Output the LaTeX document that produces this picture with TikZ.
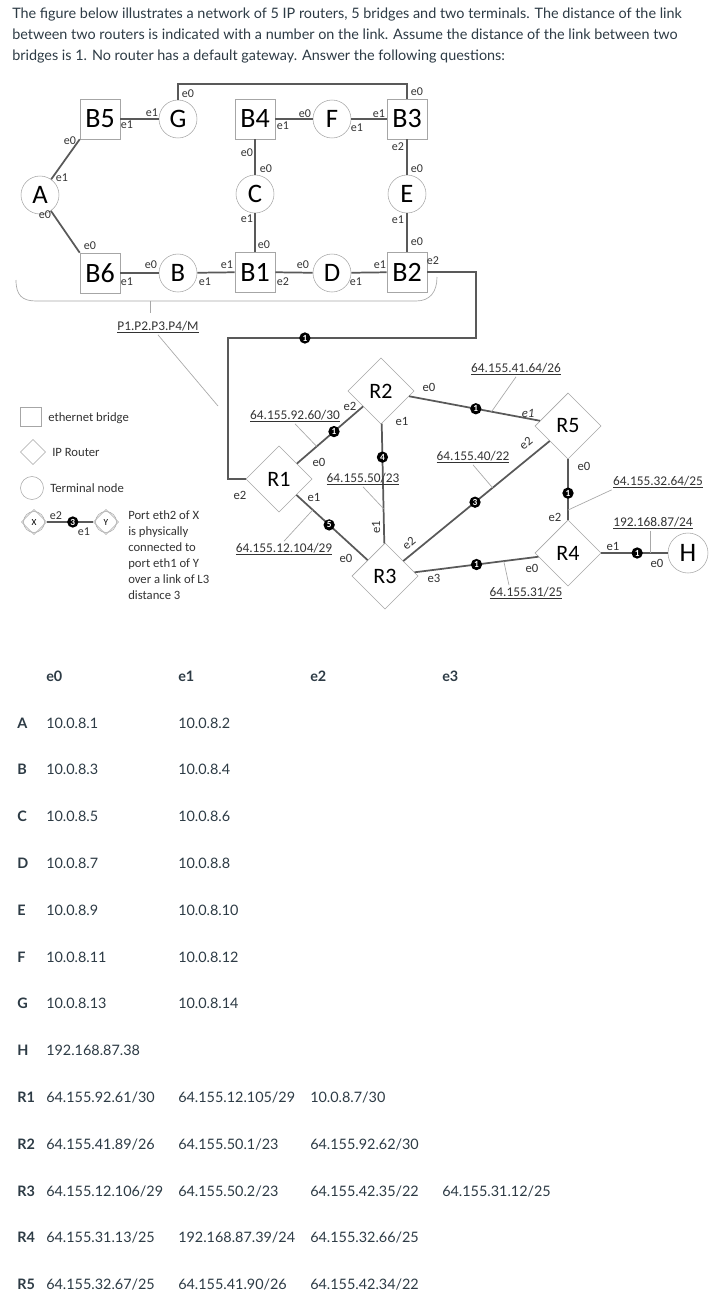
\documentclass[tikz,border=0pt]{standalone}
\usepackage{fontspec}
\setmainfont{Lato}
\newfontfamily\calfont{Carlito}
\usetikzlibrary{shapes.geometric,calc}
\definecolor{txt}{HTML}{2D3B45}
\definecolor{edge}{HTML}{A6A6A6}
\definecolor{wire}{HTML}{595959}
\definecolor{leadgray}{HTML}{A8A8A8}
\definecolor{lbl}{HTML}{333333}
\begin{document}
\begin{tikzpicture}[x=0.75pt,y=-0.75pt,
    br/.style={draw=edge,fill=white,minimum size=30pt,inner sep=0pt,
      font=\calfont\fontsize{21}{22}\selectfont},
    tm/.style={circle,draw=edge,fill=white,minimum size=28.5pt,inner sep=0pt,
      font=\calfont\fontsize{20}{22}\selectfont},
    rt/.style={diamond,draw=edge,fill=white,minimum size=49.5pt,inner sep=0pt,
      font=\calfont\fontsize{16.5}{18}\selectfont},
    ln/.style={wire,line width=1.3pt},
    ld/.style={leadgray,line width=0.5pt},
    bd/.style={circle,fill=black,text=white,inner sep=0pt,minimum size=8.5pt,
      font=\calfont\bfseries\fontsize{7}{7}\selectfont},
    pt/.style={inner sep=0pt,text=lbl,font=\calfont\fontsize{9}{10}\selectfont},
    pb/.style={inner sep=0pt,text=lbl,font=\calfont\fontsize{9.5}{10}\selectfont},
    nw/.style={inner sep=1pt,text=lbl,font=\calfont\fontsize{10}{11}\selectfont},
    lg/.style={inner sep=0pt,text=lbl,anchor=west,font=\calfont\fontsize{9.5}{12}\selectfont},
    lgbox/.style={draw=edge,minimum width=15.75pt,minimum height=14.25pt,inner sep=0pt},
    lgdia/.style={diamond,draw=edge,minimum size=18.75pt,inner sep=0pt,
      font=\calfont\fontsize{7}{8}\selectfont},
    lgcir/.style={circle,draw=edge,minimum size=17.25pt,inner sep=0pt},
    tx/.style={anchor=base west,inner sep=0pt,text=txt,font=\fontsize{10.8}{12}\selectfont},
    th/.style={tx,font=\bfseries\fontsize{10.8}{12}\selectfont},
  ]
  \useasboundingbox (0,0) rectangle (720,1297);
  \fill[white] (0,0) rectangle (720,1297);

  % question text
  \node[anchor=north west,inner sep=0pt,align=left,text=txt,
    font=\fontsize{10.8}{15.75}\selectfont] (title) at (12,8)
    {The figure below illustrates a network of 5 IP routers, 5 bridges and two terminals. The distance of the link\\
     between two routers is indicated with a number on the link. Assume the distance of the link between two\\
     bridges is 1. No router has a default gateway. Answer the following questions:};

  % bridges and terminals
  \node[tm] (A) at (40,195) {A};
  \node[br] (B5) at (100,119) {B5};
  \node[tm] (G) at (178,119) {G};
  \node[br] (B4) at (255,119) {B4};
  \node[tm] (F) at (332,119) {F};
  \node[br] (B3) at (407,119) {B3};
  \node[tm] (C) at (255,194) {C};
  \node[tm] (E) at (407,194) {E};
  \node[br] (B6) at (100,273) {B6};
  \node[tm] (B) at (178,273) {B};
  \node[br] (B1) at (255,272) {B1};
  \node[tm] (D) at (332,273) {D};
  \node[br] (B2) at (407,272) {B2};

  \draw[ln] (A) -- (B5.south west);
  \draw[ln] (A) -- (B6.north west);
  \draw[ln] (B5) -- (G);
  \draw[ln] (G.north) -- ++(0,-16) -| (B3.north);
  \draw[ln] (B4) -- (F); \draw[ln] (F) -- (B3);
  \draw[ln] (B4) -- (C); \draw[ln] (C) -- (B1);
  \draw[ln] (B3) -- (E); \draw[ln] (E) -- (B2);
  \draw[ln] (B6) -- (B); \draw[ln] (B) -- (B1);
  \draw[ln] (B1) -- (D); \draw[ln] (D) -- (B2);

  \foreach \x/\y/\t [count=\i] in {127/125/e1, 152/113/e1, 70/141/e0, 62/178/e1,
      45/215/e0, 90/246/e0, 188/94/e0, 283/126/e1, 305/114/e0, 357/128/e1,
      379/114/e1, 417/92/e0, 247/153/e0, 266/169/e0, 247/219/e1, 264/245/e0,
      398/147/e2, 417/169/e0, 398/220/e1, 417/242/e0, 127/282/e1, 151/265/e0,
      205/282/e1, 227/265/e1, 283/282/e2, 303/265/e0, 356/282/e1, 380/265/e1,
      433/261/e2}
    \node[pt] (pt\i) at (\x,\y) {\t};

  % bridged LAN
  \draw[ld] (16,280) .. controls (16,295) and (22,301) .. (36,301) -- (416,301)
    .. controls (430,301) and (437,292) .. (437,277);
  \coordinate (k3) at (150,301);
  \coordinate (k4) at (218,406);
  \node[nw] (pm) at (158,327) {\underline{P1.P2.P3.P4/M}};
  \draw[ld] (k3) -- ++(0,12);
  \draw[ld] (pm.south) -- (k4);

  % routers
  \node[rt] (R1) at (279,479) {R1};
  \node[rt] (R2) at (381,391) {R2};
  \node[rt] (R3) at (385,576) {R3};
  \node[rt] (R5) at (568,426) {R5};
  \node[rt] (R4) at (568,553) {R4};
  \node[tm,minimum size=30pt] (H) at (688,553) {H};

  \coordinate (k1) at (476,338);
  \coordinate (k2) at (228,338);
  \draw[ln] (B2.east) -| (k1) -- node[bd,pos=0.69]{1} (k2) |- (R1.west);

  \draw[ln] (R1) -- node[bd,pos=0.56]{1} coordinate[pos=0.30] (q1) (R2);
  \draw[ln] (R1) -- node[bd,pos=0.46]{5} coordinate[pos=0.23] (q2) (R3);
  \draw[ln] (R2) -- node[bd,pos=0.28]{4} coordinate[pos=0.71] (q3) (R3);
  \draw[ln] (R2) -- node[bd,pos=0.51]{1} coordinate[pos=0.63] (q4) (R5);
  \draw[ln] (R3) -- node[bd,pos=0.49]{3} coordinate[pos=0.61] (q5) (R5);
  \draw[ln] (R3) -- node[bd,pos=0.50]{1} coordinate[pos=0.72] (q6) (R4);
  \draw[ln] (R5) -- node[bd,pos=0.56]{1} coordinate[pos=0.84] (q7) (R4);
  \draw[ln] (R4) -- node[bd,pos=0.54]{1} coordinate[pos=0.74] (q8) (H);

  \node[nw] (n1) at (295,416) {\underline{64.155.92.60/30}};
  \node[nw] (n2) at (284,549) {\underline{64.155.12.104/29}};
  \node[nw] (n3) at (363,479) {\underline{64.155.50/23}};
  \node[nw] (n4) at (516,369) {\underline{64.155.41.64/26}};
  \node[nw] (n5) at (473,457) {\underline{64.155.40/22}};
  \node[nw] (n6) at (526,593) {\underline{64.155.31/25}};
  \node[nw] (n7) at (658,482) {\underline{64.155.32.64/25}};
  \node[nw] (n8) at (653,523) {\underline{192.168.87/24}};
  \draw[ld] (n1.south) -- (q1);
  \draw[ld] (n2.north) -- (q2);
  \draw[ld] (n3.south) -- (q3);
  \draw[ld] (n4.south) -- (q4);
  \draw[ld] (n5.south) -- (q5);
  \draw[ld] ($(n6.north)+(-17,0)$) -- (q6);
  \draw[ld] (n7.south west) -- (q7);
  \draw[ld] (n8.south -| q8) -- (q8);

  \foreach \x/\y/\t [count=\i] in {350/406/e2, 319/462/e0, 402/421/e1, 240/495/e2,
      314/497/e1, 346/558/e0, 434/578/e3, 429/387/e0, 584/466/e0, 555/517/e2,
      532/568/e0, 613/546/e1, 657/563/e0}
    \node[pb] (pb\i) at (\x,\y) {\t};
  \node[pb,rotate=90] (pr1) at (376,527) {e1};
  \node[pb,rotate=40] (pr2) at (409,543) {e2};
  \node[pb,rotate=40] (pr3) at (526,443) {e2};
  \node[pb,font=\calfont\itshape\fontsize{9.5}{10}\selectfont] (pr4) at (528,413) {e1};

  % legend
  \node[lgbox] (lgB) at (31,417) {};
  \node[lg] (lgBt) at (48,418) {ethernet bridge};
  \node[lgdia] (lgR) at (33,452) {};
  \node[lg] (lgRt) at (52,452) {IP Router};
  \node[lgcir] (lgT) at (32,488) {};
  \node[lg] (lgTt) at (50,488) {Terminal node};
  \node[lgdia] (X) at (34,522) {X};
  \node[lgcir,minimum size=15.75pt] (Xc) at (34,522) {};
  \node[lgdia] (Y) at (106,522) {Y};
  \node[lgcir,minimum size=15.75pt] (Yc) at (106,522) {};
  \draw[ln] (X) -- node[bd,pos=0.56]{3} (Y);
  \node[pt] (lgE2) at (56,516) {e2};
  \node[pt] (lgE1) at (84,532) {e1};
  \node[lg,anchor=north west,align=left] (lgTx) at (128,510)
    {Port eth2 of X\\is physically\\connected to\\port eth1 of Y\\over a link of L3\\distance 3};

  % address table
  \node[th] (h0) at (46,681) {e0};
  \node[th] (h1) at (178,681) {e1};
  \node[th] (h2) at (310,681) {e2};
  \node[th] (h3) at (442,681) {e3};
  \foreach \n/\k/\a/\b in {A/0/10.0.8.1/10.0.8.2, B/1/10.0.8.3/10.0.8.4,
      C/2/10.0.8.5/10.0.8.6, D/3/10.0.8.7/10.0.8.8, E/4/10.0.8.9/10.0.8.10,
      F/5/10.0.8.11/10.0.8.12, G/6/10.0.8.13/10.0.8.14}
  {
    \node[th] (r\n) at (17,{728+46.8*\k}) {\n};
    \node[tx] (c\n0) at (46,{728+46.8*\k}) {\a};
    \node[tx] (c\n1) at (178,{728+46.8*\k}) {\b};
  }
  \node[th] (rH) at (17,1055.6) {H};
  \node[tx] (cH0) at (46,1055.6) {192.168.87.38};
  \foreach \n/\k/\a/\b/\c in {R1/8/{64.155.92.61/30}/{64.155.12.105/29}/{10.0.8.7/30},
      R2/9/{64.155.41.89/26}/{64.155.50.1/23}/{64.155.92.62/30},
      R3/10/{64.155.12.106/29}/{64.155.50.2/23}/{64.155.42.35/22},
      R4/11/{64.155.31.13/25}/{192.168.87.39/24}/{64.155.32.66/25},
      R5/12/{64.155.32.67/25}/{64.155.41.90/26}/{64.155.42.34/22}}
  {
    \node[th] (r\n) at (17,{728+46.8*\k}) {\n};
    \node[tx] (c\n0) at (46,{728+46.8*\k}) {\a};
    \node[tx] (c\n1) at (178,{728+46.8*\k}) {\b};
    \node[tx] (c\n2) at (310,{728+46.8*\k}) {\c};
  }
  \node[tx] (cR33) at (442,{728+46.8*10}) {64.155.31.12/25};
\end{tikzpicture}
\end{document}
